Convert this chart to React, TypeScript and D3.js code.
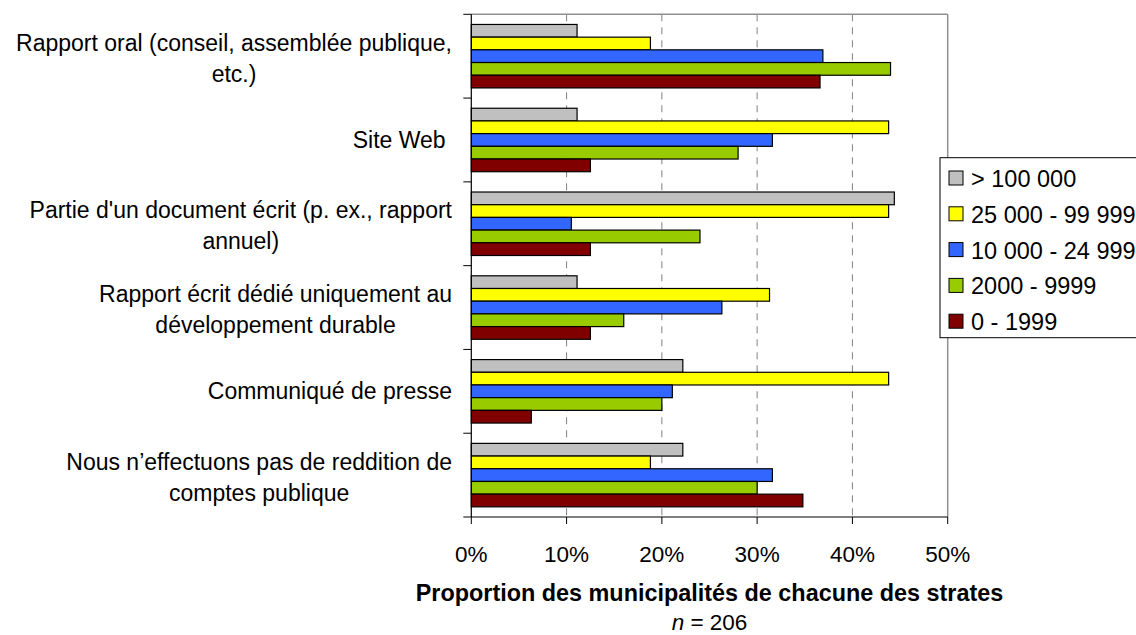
import React, { useMemo } from "react";
import * as d3 from "d3";

const categoryLines: string[][] = [
  ["Rapport oral (conseil, assemblée publique,", "etc.)"],
  ["Site Web "],
  ["Partie d'un document écrit (p. ex., rapport", "annuel)"],
  ["Rapport écrit dédié uniquement au", "développement durable"],
  ["Communiqué de presse"],
  ["Nous n’effectuons pas de reddition de", "comptes publique"],
];
const categoryKeys = categoryLines.map((l) => l.join(" "));

const seriesNames = ["> 100 000", "25 000 - 99 999", "10 000 - 24 999", "2000 - 9999", "0 - 1999"];
const seriesColors = ["#C0C0C0", "#FFFF00", "#3366FF", "#99CC00", "#800000"];

const valsOver100k = [11.1, 11.1, 44.4, 11.1, 22.2, 22.2];
const vals25kTo99k = [18.8, 43.8, 43.8, 31.3, 43.8, 18.8];
const vals10kTo24k = [36.9, 31.6, 10.5, 26.3, 21.1, 31.6];
const vals2kTo9k = [44.0, 28.0, 24.0, 16.0, 20.0, 30.0];
const vals0To1999 = [36.6, 12.5, 12.5, 12.5, 6.3, 34.8];
const seriesValues = [valsOver100k, vals25kTo99k, vals10kTo24k, vals2kTo9k, vals0To1999];

const xTicks = [0, 10, 20, 30, 40, 50];
const gridTicks = [10, 20, 30, 40];

const FONT = "'Liberation Sans', Arial, sans-serif";
const FS = 23;

function measure(text: string, font: string): number {
  const c = document.createElement("canvas");
  const ctx = c.getContext("2d")!;
  ctx.font = font;
  return ctx.measureText(text).width;
}

export default function App() {
  const left = 471.3;
  const right = 947.7;
  const top = 14.3;
  const bottom = 517;

  const x = d3.scaleLinear().domain([0, 50]).range([left, right]);
  const y = d3.scaleBand<string>().domain(categoryKeys).range([top, bottom]).padding(0);
  const inner = d3
    .scaleBand<string>()
    .domain(seriesNames)
    .range([0, y.bandwidth()])
    .paddingInner(0)
    .paddingOuter(0.8);

  const labelX = 452;
  const lineH = 31;

  const labelLayouts = useMemo(
    () =>
      categoryLines.map((lines) => {
        const widths = lines.map((l) => measure(l, `${FS}px ${FONT}`));
        const maxW = Math.max(...widths);
        const center = labelX - maxW / 2;
        return lines.map((l, i) => ({ text: l, x: center - widths[i] / 2 }));
      }),
    []
  );

  const legendX = 940;
  const legendTop = 157.7;
  const legendRow = 35.8;

  return (
    <svg
      width={1136}
      height={635}
      style={{ position: "absolute", left: 0, top: 0, background: "#fff" }}
      fontFamily={FONT}
    >
      <rect x={0} y={0} width={1136} height={635} fill="#fff" />
      {/* gridlines */}
      {gridTicks.map((t) => (
        <line
          key={t}
          x1={x(t)}
          x2={x(t)}
          y1={top}
          y2={bottom}
          stroke="#808080"
          strokeWidth={1}
          strokeDasharray="7,6"
        />
      ))}
      {/* plot frame top/right */}
      <line x1={left} x2={right} y1={top} y2={top} stroke="#909090" strokeWidth={1.5} />
      <line x1={right} x2={right} y1={top} y2={bottom} stroke="#909090" strokeWidth={1.5} />

      {/* bars */}
      {categoryKeys.map((c, ci) => (
        <g key={c}>
          {seriesNames.map((s, si) => (
            <rect
              key={s}
              x={x(0)}
              y={(y(c) as number) + (inner(s) as number)}
              width={x(seriesValues[si][ci]) - x(0)}
              height={inner.bandwidth()}
              fill={seriesColors[si]}
              stroke="#000"
              strokeWidth={1.2}
            />
          ))}
        </g>
      ))}

      {/* axes */}
      <line x1={left} x2={left} y1={top} y2={bottom} stroke="#000" strokeWidth={1.2} />
      <line x1={left} x2={right} y1={bottom} y2={bottom} stroke="#000" strokeWidth={1.2} />
      {[...categoryKeys.map((c) => y(c) as number), bottom].map((yy, i) => (
        <line key={i} x1={left - 8} x2={left} y1={yy} y2={yy} stroke="#000" strokeWidth={1} />
      ))}
      {xTicks.map((t) => (
        <g key={t}>
          <line x1={x(t)} x2={x(t)} y1={bottom} y2={bottom + 7} stroke="#000" strokeWidth={1} />
          <text x={x(t)} y={562} textAnchor="middle" fontSize={22.5} fill="#000">
            {`${t}%`}
          </text>
        </g>
      ))}

      {/* category labels */}
      {categoryKeys.map((c, ci) => {
        const lay = labelLayouts[ci];
        const center = (y(c) as number) + y.bandwidth() / 2;
        const n = lay.length;
        const firstBase = center + (n > 1 ? 10 : 8) - ((n - 1) * lineH) / 2;
        return (
          <g key={c}>
            {lay.map((ln, li) => (
              <text
                key={li}
                x={ln.x}
                y={firstBase + li * lineH}
                fontSize={FS}
                fill="#000"
                style={{ whiteSpace: "pre" }}
              >
                {ln.text}
              </text>
            ))}
          </g>
        );
      })}

      {/* axis title */}
      <text
        x={(left + right) / 2}
        y={601}
        textAnchor="middle"
        fontSize={23.4}
        fontWeight="bold"
        fill="#000"
      >
        Proportion des municipalités de chacune des strates
      </text>
      <text x={(left + right) / 2} y={630} textAnchor="middle" fontSize={22.5} fill="#000">
        <tspan fontStyle="italic">n</tspan>
        <tspan> = 206</tspan>
      </text>

      {/* legend */}
      <rect
        x={legendX}
        y={legendTop}
        width={220}
        height={180}
        fill="#fff"
        stroke="#000"
        strokeWidth={1}
      />
      {seriesNames.map((s, si) => {
        const base = 187 + si * legendRow;
        return (
          <g key={s}>
            <rect
              x={949}
              y={base - 16}
              width={14}
              height={14}
              fill={seriesColors[si]}
              stroke="#000"
              strokeWidth={1}
            />
            <text x={971} y={base} fontSize={23.5} fill="#000" style={{ whiteSpace: "pre" }}>
              {s}
            </text>
          </g>
        );
      })}
    </svg>
  );
}
